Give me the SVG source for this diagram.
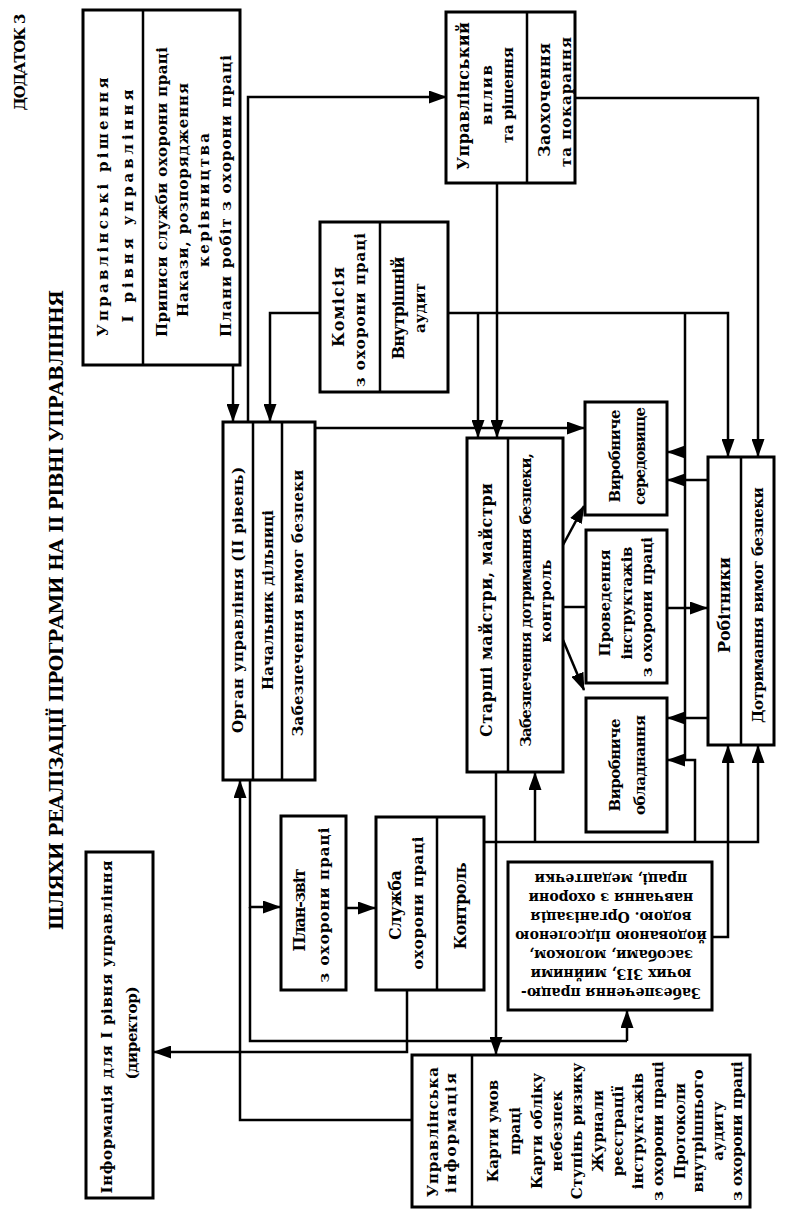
<svg xmlns="http://www.w3.org/2000/svg" width="788" height="1219" viewBox="0 0 788 1219">
<style>
.t{font-family:"DejaVu Serif","Liberation Serif",serif;font-weight:bold;font-size:15px;text-anchor:middle;fill:#000}
.s{font-size:14px}
.b{font-size:16px}
.box{fill:#fff;stroke:#000;stroke-width:3}
.dv{stroke:#000;stroke-width:2.5}
.c{fill:none;stroke:#000;stroke-width:2.5}
.ar{marker-end:url(#ah)}
</style>
<defs>
<marker id="ah" markerWidth="18" markerHeight="13" refX="17" refY="6.5" orient="auto" markerUnits="userSpaceOnUse"><path d="M0,0 L18,6.5 L0,13 z" fill="#000"/></marker>
</defs>
<rect width="788" height="1219" fill="#fff"/>

<g id="titles">
<text class="t" style="font-size:15px" textLength="97" lengthAdjust="spacing" transform="translate(25,62) rotate(-90)">ДОДАТОК 3</text>
<text class="t" style="font-size:19px" textLength="640" lengthAdjust="spacing" transform="translate(63,610) rotate(-90)">ШЛЯХИ РЕАЛІЗАЦІЇ ПРОГРАМИ НА ІІ РІВНІ УПРАВЛІННЯ</text>
</g>

<g id="connectors">
<path class="c ar" d="M233,365 V421"/>
<path class="c ar" d="M248,422 V97 H446"/>
<path class="c ar" d="M320,313 H270 V421"/>
<path class="c ar" d="M448,313 H728 V456"/>
<path class="c ar" d="M478,313 V437"/>
<path class="c ar" d="M497,183 V437"/>
<path class="c ar" d="M575,98 H758 V456"/>
<path class="c ar" d="M315,428 H584"/>
<path class="c" d="M685,313 V760"/>
<path class="c ar" d="M685,452 H668"/>
<path class="c ar" d="M695,842 V760 H668"/>
<path class="c ar" d="M708,480 H668"/>
<path class="c ar" d="M708,718 H668"/>
<path class="c ar" d="M667,608 H707"/>
<path class="c ar" d="M563,545 L584,506"/>
<path class="c ar" d="M563,640 L584,690"/>
<path class="c" d="M563,607 H586"/>
<path class="c ar" d="M712,937 H728 V746"/>
<path class="c ar" d="M484,842 H758 V746"/>
<path class="c ar" d="M535,842 V773"/>
<path class="c ar" d="M496,772 V1054"/>
<path class="c ar" d="M250,780 V907 H280"/>
<path class="c ar" d="M346,908 H375"/>
<path class="c" d="M250,907 V1041 H627"/>
<path class="c ar" d="M627,1041 V1011"/>
<path class="c ar" d="M407,990 V1052 H154"/>
<path class="c ar" d="M412,1120 H240 V781"/>
</g>

<g id="n-upr-rishennia">
<rect class="box" x="83" y="10" width="157" height="355"/>
<line class="dv" x1="143" y1="10" x2="143" y2="365"/>
<text class="t" textLength="259" lengthAdjust="spacing" transform="translate(108,207) rotate(-90)">Управлінські рішення</text>
<text class="t" textLength="233" lengthAdjust="spacing" transform="translate(133,206) rotate(-90)">І рівня управління</text>
<text class="t" textLength="290" lengthAdjust="spacing" transform="translate(167,192) rotate(-90)">Приписи служби охорони праці</text>
<text class="t" textLength="234" lengthAdjust="spacing" transform="translate(188,200) rotate(-90)">Накази, розпорядження</text>
<text class="t" textLength="134" lengthAdjust="spacing" transform="translate(209,200) rotate(-90)">керівництва</text>
<text class="t" textLength="282" lengthAdjust="spacing" transform="translate(231,196) rotate(-90)">Плани робіт з охорони праці</text>
</g>

<g id="n-upr-vplyv">
<rect class="box" x="446" y="12" width="129" height="171"/>
<line class="dv" x1="527" y1="12" x2="527" y2="183"/>
<text class="t b" textLength="148" lengthAdjust="spacing" transform="translate(469,96) rotate(-90)">Управлінський</text>
<text class="t" textLength="60" lengthAdjust="spacing" transform="translate(492,95) rotate(-90)">вплив</text>
<text class="t" textLength="96" lengthAdjust="spacing" transform="translate(513,95) rotate(-90)">та рішення</text>
<text class="t b" textLength="114" lengthAdjust="spacing" transform="translate(550,100) rotate(-90)">Заохочення</text>
<text class="t" textLength="130" lengthAdjust="spacing" transform="translate(571,102) rotate(-90)">та покарання</text>
</g>

<g id="n-komisiia">
<rect class="box" x="320" y="222" width="128" height="170"/>
<line class="dv" x1="380" y1="222" x2="380" y2="392"/>
<text class="t b" textLength="80" lengthAdjust="spacing" transform="translate(344,307) rotate(-90)">Комісія</text>
<text class="t" textLength="154" lengthAdjust="spacing" transform="translate(365,310) rotate(-90)">з охорони праці</text>
<text class="t b" textLength="103" lengthAdjust="spacing" transform="translate(404,308) rotate(-90)">Внутрішній</text>
<text class="t" textLength="50" lengthAdjust="spacing" transform="translate(425,308) rotate(-90)">аудит</text>
</g>

<g id="n-organ">
<rect class="box" x="223" y="422" width="92" height="358"/>
<line class="dv" x1="253" y1="422" x2="253" y2="780"/>
<line class="dv" x1="282" y1="422" x2="282" y2="780"/>
<text class="t" textLength="266" lengthAdjust="spacing" transform="translate(243,600) rotate(-90)">Орган управління (ІІ рівень)</text>
<text class="t" textLength="180" lengthAdjust="spacing" transform="translate(273,600) rotate(-90)">Начальник дільниці</text>
<text class="t" textLength="267" lengthAdjust="spacing" transform="translate(303,603) rotate(-90)">Забезпечення вимог безпеки</text>
</g>

<g id="n-starshi">
<rect class="box" x="467" y="438" width="96" height="334"/>
<line class="dv" x1="508" y1="438" x2="508" y2="772"/>
<text class="t b" textLength="254" lengthAdjust="spacing" transform="translate(492,610) rotate(-90)">Старші майстри, майстри</text>
<text class="t" textLength="294" lengthAdjust="spacing" transform="translate(531,600) rotate(-90)">Забезпечення дотримання безпеки,</text>
<text class="t" textLength="83" lengthAdjust="spacing" transform="translate(551,601) rotate(-90)">контроль</text>
</g>

<g id="n-seredovyshche">
<rect class="box" x="585" y="402" width="82" height="113"/>
<text class="t" textLength="93" lengthAdjust="spacing" transform="translate(620,456) rotate(-90)">Виробниче</text>
<text class="t" textLength="98" lengthAdjust="spacing" transform="translate(645,456) rotate(-90)">середовище</text>
</g>

<g id="n-instruktazhi">
<rect class="box" x="586" y="530" width="81" height="153"/>
<text class="t" textLength="107" lengthAdjust="spacing" transform="translate(610,603) rotate(-90)">Проведення</text>
<text class="t" textLength="113" lengthAdjust="spacing" transform="translate(632,603) rotate(-90)">інструктажів</text>
<text class="t" textLength="140" lengthAdjust="spacing" transform="translate(652,607) rotate(-90)">з охорони праці</text>
</g>

<g id="n-obladnannia">
<rect class="box" x="586" y="698" width="81" height="134"/>
<text class="t" textLength="93" lengthAdjust="spacing" transform="translate(620,765) rotate(-90)">Виробниче</text>
<text class="t" textLength="100" lengthAdjust="spacing" transform="translate(645,765) rotate(-90)">обладнання</text>
</g>

<g id="n-robitnyky">
<rect class="box" x="708" y="457" width="66" height="288"/>
<line class="dv" x1="741" y1="457" x2="741" y2="745"/>
<text class="t b" textLength="96" lengthAdjust="spacing" transform="translate(730,605) rotate(-90)">Робітники</text>
<text class="t" textLength="236" lengthAdjust="spacing" transform="translate(763,605) rotate(-90)">Дотримання вимог безпеки</text>
</g>

<g id="n-plan-zvit">
<rect class="box" x="281" y="816" width="65" height="174"/>
<text class="t b" textLength="83" lengthAdjust="spacing" transform="translate(305,910) rotate(-90)">План-звіт</text>
<text class="t" textLength="155" lengthAdjust="spacing" transform="translate(329,905) rotate(-90)">з охорони праці</text>
</g>

<g id="n-sluzhba">
<rect class="box" x="376" y="817" width="108" height="173"/>
<line class="dv" x1="437" y1="817" x2="437" y2="990"/>
<text class="t b" textLength="70" lengthAdjust="spacing" transform="translate(401,905) rotate(-90)">Служба</text>
<text class="t" textLength="133" lengthAdjust="spacing" transform="translate(423,903) rotate(-90)">охорони праці</text>
<text class="t b" textLength="87" lengthAdjust="spacing" transform="translate(466,906) rotate(-90)">Контроль</text>
</g>

<g id="n-zabezpechennia">
<rect class="box" x="508" y="862" width="204" height="148"/>
<g transform="rotate(180,610,936)">
<text class="t s" x="609" y="884">Забезпечення працю-</text>
<text class="t s" x="609" y="903">ючих ЗІЗ, мийними</text>
<text class="t s" x="609" y="922">засобами, молоком,</text>
<text class="t s" x="609" y="941">йодованою підсоленою</text>
<text class="t s" x="609" y="960">водою. Організація</text>
<text class="t s" x="609" y="979">навчання з охорони</text>
<text class="t s" x="609" y="998">праці, медаптечки</text>
</g>
</g>

<g id="n-info-director">
<rect class="box" x="86" y="852" width="67" height="346"/>
<text class="t" textLength="333" lengthAdjust="spacing" transform="translate(112,1027) rotate(-90)">Інформація для І рівня управління</text>
<text class="t" textLength="93" lengthAdjust="spacing" transform="translate(137,1033) rotate(-90)">(директор)</text>
</g>

<g id="n-upr-info">
<rect class="box" x="412" y="1055" width="338" height="152"/>
<line class="dv" x1="472" y1="1055" x2="472" y2="1207"/>
<text class="t" textLength="130" lengthAdjust="spacing" transform="translate(438,1132) rotate(-90)">Управлінська</text>
<text class="t" textLength="120" lengthAdjust="spacing" transform="translate(456,1133) rotate(-90)">інформація</text>
<text class="t" transform="translate(498,1131) rotate(-90)">Карти умов</text>
<text class="t" transform="translate(520,1131) rotate(-90)">праці</text>
<text class="t" transform="translate(542,1131) rotate(-90)">Карти обліку</text>
<text class="t" transform="translate(562,1131) rotate(-90)">небезпек</text>
<text class="t" transform="translate(582,1131) rotate(-90)">Ступінь ризику</text>
<text class="t" transform="translate(603,1131) rotate(-90)">Журнали</text>
<text class="t" transform="translate(623,1131) rotate(-90)">реєстрації</text>
<text class="t" transform="translate(643,1131) rotate(-90)">інструктажів</text>
<text class="t" transform="translate(663,1131) rotate(-90)">з охорони праці</text>
<text class="t" transform="translate(685,1131) rotate(-90)">Протоколи</text>
<text class="t" transform="translate(703,1131) rotate(-90)">внутрішнього</text>
<text class="t" transform="translate(723,1131) rotate(-90)">аудиту</text>
<text class="t" transform="translate(742,1131) rotate(-90)">з охорони праці</text>
</g>
</svg>
